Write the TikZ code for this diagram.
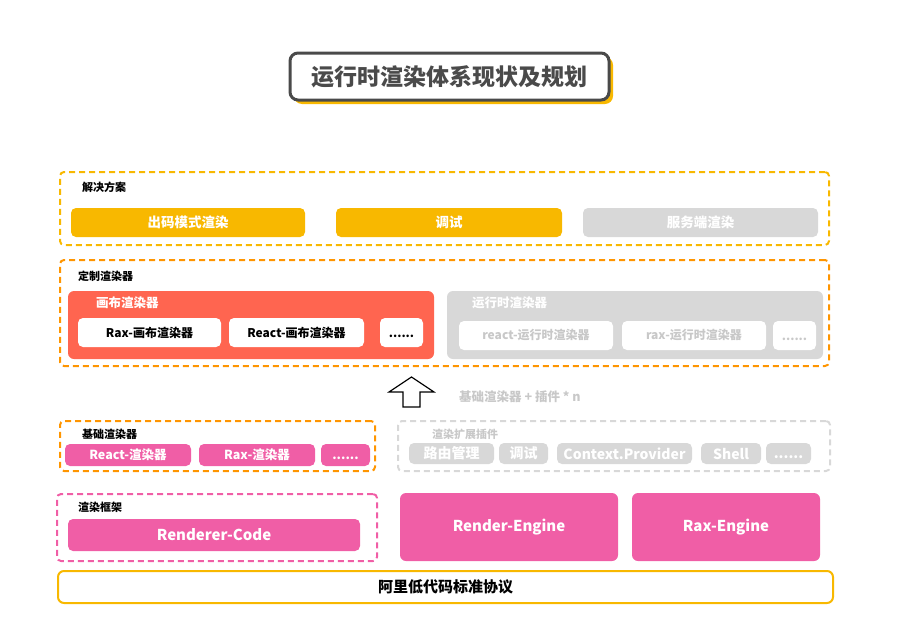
\documentclass[tikz,border=0pt]{standalone}
\usepackage{fontspec}
\setmainfont{Noto Sans CJK SC}
\usetikzlibrary{positioning,shadows}
\definecolor{solyellow}{RGB}{248,184,0}
\definecolor{custorange}{RGB}{255,149,0}
\definecolor{canvasred}{RGB}{255,101,80}
\definecolor{basepink}{RGB}{240,94,166}
\definecolor{offgray}{RGB}{216,216,216}
\definecolor{fadegray}{RGB}{200,200,200}
\definecolor{titlegray}{RGB}{74,74,74}
\newcommand{\fsz}[1]{\bfseries\fontsize{#1}{#1}\selectfont}
\newcommand{\more}{\vphantom{渲}......}

\begin{document}
\begin{tikzpicture}[x=1pt,y=-1pt,
  layer/.style={draw,line width=2pt,dash pattern=on 6pt off 4pt,rounded corners=4pt,
                anchor=north west,inner sep=0pt,outer sep=0pt},
  tag/.style={anchor=west,inner sep=0pt,font=\fsz{11}},
  pill/.style={rounded corners=5pt,text=white,inner sep=0pt,outer sep=0pt,
               font=\fsz{13.5}},
  solpill/.style={pill,fill=solyellow,minimum height=29pt},
  whitepill/.style={pill,fill=white,text=black,minimum height=29pt,font=\fsz{12}},
  pinkpill/.style={pill,fill=basepink,minimum height=22pt,font=\fsz{12.5}},
  greypill/.style={pill,fill=offgray,minimum height=21pt,font=\fsz{14}},
  engine/.style={pill,fill=basepink,rounded corners=6pt,anchor=north west,
                 minimum height=68pt,font=\fsz{15}}
]
\useasboundingbox (0,0) rectangle (897,637);

% ---------------- title ----------------
\node[draw=titlegray,line width=3pt,rounded corners=8pt,fill=white,
      minimum width=319pt,minimum height=47pt,text=titlegray,font=\fsz{23},
      drop shadow={shadow xshift=4pt,shadow yshift=-4pt,fill=solyellow,opacity=1}]
  (title) at (449.5,76.5) {运行时渲染体系现状及规划};

% ---------------- 解决方案 ----------------
\node[layer,draw=solyellow,minimum width=769pt,minimum height=73pt] (sol) at (60,172) {};
\node[tag] (soltag) at (82,187) {解决方案};
\node[solpill,anchor=north west,minimum width=234pt] (sol1) at (71,208) {出码模式渲染};
\node[solpill,minimum width=226pt,right=31pt of sol1] (sol2) {调试};
\node[solpill,fill=offgray,minimum width=235pt,right=21pt of sol2] (sol3) {服务端渲染};

% ---------------- 定制渲染器 ----------------
\node[layer,draw=custorange,minimum width=769pt,minimum height=106pt] (cust) at (60,260) {};
\node[tag] (custtag) at (78,276) {定制渲染器};

\node[pill,fill=canvasred,rounded corners=6pt,anchor=north west,
      minimum width=366pt,minimum height=68pt] (canvas) at (68,291) {};
\node[tag,text=white,font=\fsz{12.5}] (canvastag) at (96,303) {画布渲染器};
\node[whitepill,anchor=north west,minimum width=143pt] (cv1) at (78,318) {Rax-画布渲染器};
\node[whitepill,minimum width=135pt,right=8pt of cv1] (cv2) {React-画布渲染器};
\node[whitepill,minimum width=43pt,right=16pt of cv2] (cv3) {\more};

\node[pill,fill=offgray,rounded corners=6pt,anchor=north west,
      minimum width=376pt,minimum height=68pt] (runtime) at (447,291) {};
\node[tag,text=white,font=\fsz{12.5}] (runtimetag) at (472,303) {运行时渲染器};
\node[whitepill,text=fadegray,anchor=north west,minimum width=154pt] (rt1) at (459,321) {react-运行时渲染器};
\node[whitepill,text=fadegray,minimum width=144pt,right=9pt of rt1] (rt2) {rax-运行时渲染器};
\node[whitepill,text=fadegray,minimum width=43pt,right=7pt of rt2] (rt3) {\more};

% ---------------- 基础渲染器 + 插件 ----------------
\draw[line width=1.2pt,fill=white] (411.5,377) -- (434,392) -- (420,392) -- (420,407)
  -- (403,407) -- (403,392) -- (389,392) -- cycle;
\node[tag,text=fadegray,font=\fsz{12.5}] (plus) at (459,397) {基础渲染器 + 插件 * n};

\node[layer,draw=custorange,minimum width=315pt,minimum height=50pt] (base) at (60,421) {};
\node[tag] (basetag) at (82,434) {基础渲染器};
\node[pinkpill,anchor=north west,minimum width=126pt] (b1) at (65,444) {React-渲染器};
\node[pinkpill,minimum width=116pt,right=8pt of b1] (b2) {Rax-渲染器};
\node[pinkpill,minimum width=49pt,right=6pt of b2] (b3) {\more};

\node[layer,draw=offgray,minimum width=432pt,minimum height=50pt] (plug) at (398,421) {};
\node[tag,text=fadegray] (plugtag) at (432,434) {渲染扩展插件};
\node[greypill,anchor=north west,minimum width=85pt] (p1) at (409,443) {路由管理};
\node[greypill,minimum width=49pt,right=5pt of p1] (p2) {调试};
\node[greypill,minimum width=135pt,right=9pt of p2] (p3) {Context.Provider};
\node[greypill,minimum width=60pt,right=9pt of p3] (p4) {Shell};
\node[greypill,minimum width=45pt,right=5pt of p4] (p5) {\more};

% ---------------- 渲染框架 / 引擎 ----------------
\node[layer,draw=basepink,minimum width=320pt,minimum height=67pt] (frame) at (57,494) {};
\node[tag] (frametag) at (78,507) {渲染框架};
\node[pill,fill=basepink,anchor=north west,minimum width=292pt,minimum height=32pt,
      font=\fsz{15}] (code) at (68,519) {Renderer-Code};
\node[engine,minimum width=218pt] (eng1) at (400,493) {Render-Engine};
\node[engine,minimum width=188pt] (eng2) at (632,493) {Rax-Engine};

% ---------------- 协议 ----------------
\node[draw=solyellow,line width=2pt,rounded corners=6pt,fill=white,anchor=north west,
      minimum width=775pt,minimum height=32pt,font=\fsz{15}] (proto) at (57,570) {阿里低代码标准协议};
\end{tikzpicture}
\end{document}
